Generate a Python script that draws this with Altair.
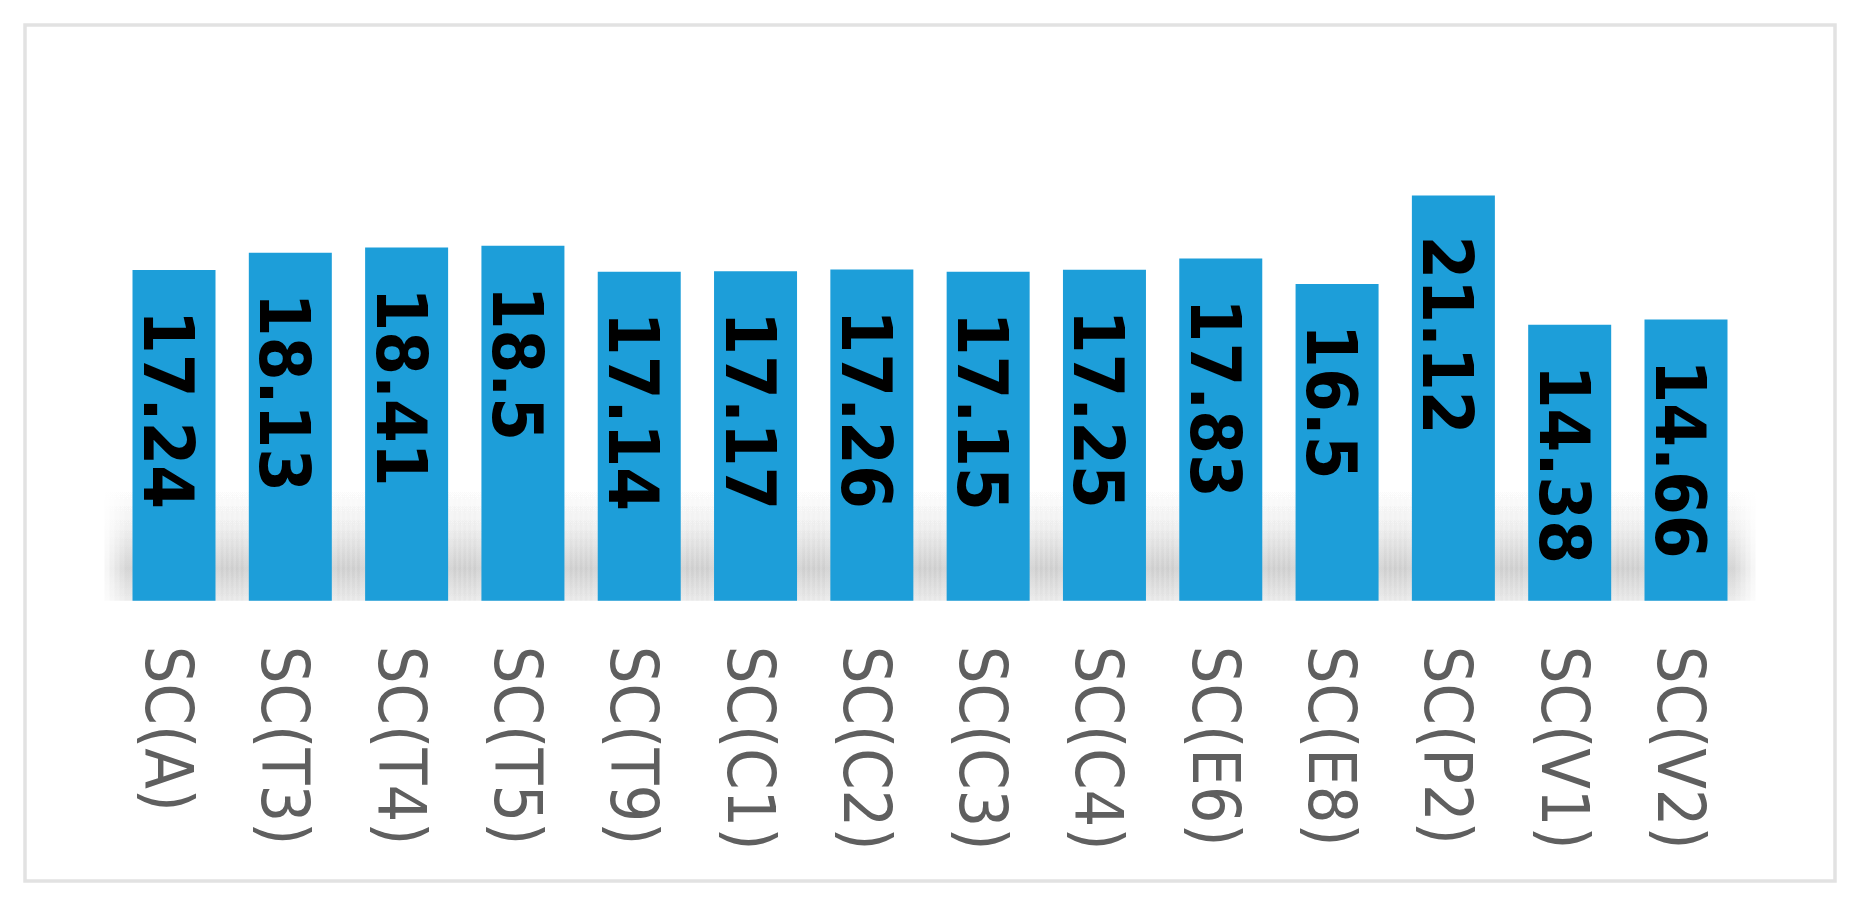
import altair as alt
import pandas as pd

categories = ["SC(A)", "SC(T3)", "SC(T4)", "SC(T5)", "SC(T9)", "SC(C1)", "SC(C2)",
              "SC(C3)", "SC(C4)", "SC(E6)", "SC(E8)", "SC(P2)", "SC(V1)", "SC(V2)"]
values = [17.24, 18.13, 18.41, 18.5, 17.14, 17.17, 17.26, 17.15, 17.25, 17.83,
          16.5, 21.12, 14.38, 14.66]

df = pd.DataFrame({
    "cat": categories,
    "value": values,
    "label": [f"{v:g}" for v in values],
})

BAR_COLOR = "#1d9ed9"
FONT = "DejaVu Sans Condensed"

xscale = alt.Scale(domain=categories, paddingInner=0.2863, paddingOuter=0.9243, align=0.5)
yscale = alt.Scale(domain=[-14.6, 30], nice=False, zero=False)

X = alt.X("cat:N", sort=categories, scale=xscale, axis=None)

base = alt.Chart(df)

shadow_layers = []
for ext in [16, 26, 36, 46, 56]:
    grad = alt.LinearGradient(
        gradient="linear",
        stops=[
            alt.GradientStop(color="rgba(0,0,0,0)", offset=0),
            alt.GradientStop(color="rgba(0,0,0,0.012)", offset=0.35),
            alt.GradientStop(color="rgba(0,0,0,0.034)", offset=0.72),
            alt.GradientStop(color="rgba(0,0,0,0.016)", offset=1),
        ],
        x1=0, x2=0, y1=0, y2=1,
    )
    shadow_layers.append(
        base.mark_bar(width=83 + ext, color=grad).encode(
            x=X,
            y=alt.datum(6.0, scale=yscale, axis=None),
            y2=alt.datum(0),
        )
    )

bars = base.mark_bar(color=BAR_COLOR, width=83).encode(
    x=X,
    y=alt.Y("value:Q", scale=yscale, axis=None),
    y2=alt.datum(0),
)

value_text = base.mark_text(
    angle=90, align="left", baseline="middle", dx=40, dy=9,
    font=FONT, fontWeight="bold", fontSize=70, color="#000000",
).encode(
    x=X,
    y=alt.Y("value:Q", scale=yscale, axis=None),
    text="label:N",
)

cat_text = base.mark_text(
    angle=90, align="left", baseline="middle", dx=45, dy=8,
    font=FONT, fontSize=66, color="#5f5f5f",
).encode(
    x=X,
    y=alt.datum(0, scale=yscale, axis=None),
    text="cat:N",
)

chart = alt.layer(*shadow_layers, bars, value_text, cat_text).properties(
    width=1810,
    height=856,
    autosize=alt.AutoSizeParams(type="none"),
    padding={"left": 17, "top": 17, "right": 10, "bottom": 10},
    background="#ffffff",
).configure_view(
    stroke="#e2e2e2",
    strokeWidth=3.5,
)

chart.save("out.html", embed_options={"renderer": "svg", "actions": False})
